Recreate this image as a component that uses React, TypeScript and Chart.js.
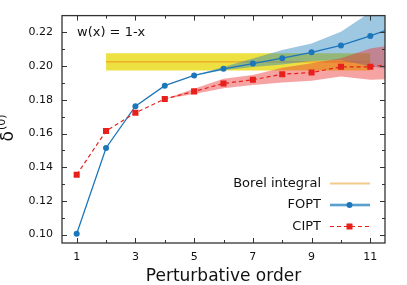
import React, { useEffect, useRef } from "react";
import { Chart, registerables } from "chart.js";

Chart.register(...registerables);

// ---- data ----
const orders = [1, 2, 3, 4, 5, 6, 7, 8, 9, 10, 11, 12];
const foptValues = [0.1005, 0.1514, 0.1762, 0.1884, 0.1945, 0.1984, 0.2015, 0.2047, 0.2082, 0.2123, 0.2179, 0.2243];
const ciptValues = [0.1355, 0.1615, 0.1723, 0.1805, 0.185, 0.1897, 0.1919, 0.1952, 0.1962, 0.1996, 0.1996, 0.2018];

const foptBandOrders = [5, 6, 7, 8, 9, 10, 11, 12];
const foptBandHi = [0.1946, 0.1995, 0.2045, 0.2096, 0.2135, 0.2204, 0.232, 0.245];
const foptBandLo = [0.1944, 0.1975, 0.1995, 0.201, 0.203, 0.2035, 0.2, 0.197];

const ciptBandOrders = [4, 5, 6, 7, 8, 9, 10, 11, 12];
const ciptBandHi = [0.1805, 0.1865, 0.1925, 0.1948, 0.199, 0.2017, 0.2047, 0.2105, 0.213];
const ciptBandLo = [0.1805, 0.1835, 0.1868, 0.1888, 0.1903, 0.1913, 0.1939, 0.1919, 0.1925];

const borelOrders = [2, 11];
const borelCenter = 0.2025;
const borelLo = 0.1974;
const borelHi = 0.2076;

const xTicks = [1, 3, 5, 7, 9, 11];
const xMinorTicks = [2, 4, 6, 8, 10];
const yTicks = [0.1, 0.12, 0.14, 0.16, 0.18, 0.2, 0.22];
const yMinorTicks = [0.11, 0.13, 0.15, 0.17, 0.19, 0.21];

const xTitle = "Perturbative order";
const yTitleMain = "δ";
const yTitleSup = "(0)";
const annotationText = "w(x) = 1-x";
const legendLabels = ["Borel integral", "FOPT", "CIPT"];

const FONT = "'DejaVu Sans', sans-serif";
const BLUE = "rgb(28,118,186)";
const RED = "rgb(232,32,28)";
const AXIS = "#333333";

const pts = (xs: number[], ys: number[]) => xs.map((x, i) => ({ x, y: ys[i] }));
const flat = (xs: number[], y: number) => xs.map((x) => ({ x, y }));

const decorPlugin = {
  id: "decor",
  afterDraw(chart: any) {
    const { ctx, chartArea } = chart;
    const xs = chart.scales.x;
    const ys = chart.scales.y;
    const { left, right, top, bottom } = chartArea;
    ctx.save();
    // ticks inward on all sides
    ctx.strokeStyle = AXIS;
    ctx.lineWidth = 1;
    const tickX = (v: number, len: number) => {
      const px = Math.round(xs.getPixelForValue(v)) + 0.5;
      ctx.beginPath();
      ctx.moveTo(px, bottom);
      ctx.lineTo(px, bottom - len);
      ctx.moveTo(px, top);
      ctx.lineTo(px, top + len);
      ctx.stroke();
    };
    const tickY = (v: number, len: number) => {
      const py = Math.round(ys.getPixelForValue(v)) + 0.5;
      ctx.beginPath();
      ctx.moveTo(left, py);
      ctx.lineTo(left + len, py);
      ctx.moveTo(right, py);
      ctx.lineTo(right - len, py);
      ctx.stroke();
    };
    xTicks.forEach((v) => tickX(v, 5));
    xMinorTicks.forEach((v) => tickX(v, 3));
    yTicks.forEach((v) => tickY(v, 5));
    yMinorTicks.forEach((v) => tickY(v, 3));
    // frame
    ctx.lineWidth = 1.3;
    ctx.strokeRect(left, top, right - left, bottom - top);

    // annotation
    ctx.fillStyle = "#111";
    ctx.font = `13px ${FONT}`;
    ctx.textAlign = "left";
    ctx.textBaseline = "middle";
    ctx.fillText(annotationText, 77, 32.5);

    // x title
    ctx.font = `17px ${FONT}`;
    ctx.textAlign = "center";
    ctx.textBaseline = "middle";
    ctx.fillText(xTitle, (left + right) / 2, 277);

    // y title (rotated)
    ctx.save();
    ctx.translate(12.5, 128);
    ctx.rotate(-Math.PI / 2);
    ctx.font = `17px ${FONT}`;
    const wMain = ctx.measureText(yTitleMain).width;
    ctx.font = `11px ${FONT}`;
    const wSup = ctx.measureText(yTitleSup).width;
    const total = wMain + wSup + 1;
    ctx.textAlign = "left";
    ctx.textBaseline = "alphabetic";
    ctx.font = `17px ${FONT}`;
    ctx.fillText(yTitleMain, -total / 2, 0);
    ctx.font = `11px ${FONT}`;
    ctx.fillText(yTitleSup, -total / 2 + wMain + 1, -8);
    ctx.restore();

    // legend
    const rows = [183.5, 205, 226.5];
    ctx.font = `13px ${FONT}`;
    ctx.textAlign = "right";
    ctx.textBaseline = "middle";
    ctx.fillStyle = "#111";
    legendLabels.forEach((t, i) => ctx.fillText(t, 321, rows[i]));
    const lx0 = 330, lx1 = 370, mx = 349.5;
    // Borel
    ctx.strokeStyle = "rgba(236,190,110,0.8)";
    ctx.lineWidth = 2;
    ctx.beginPath();
    ctx.moveTo(lx0, rows[0]);
    ctx.lineTo(lx1, rows[0]);
    ctx.stroke();
    // FOPT
    ctx.strokeStyle = "rgba(150,200,226,1)";
    ctx.lineWidth = 3;
    ctx.beginPath();
    ctx.moveTo(lx0, rows[1]);
    ctx.lineTo(lx1, rows[1]);
    ctx.stroke();
    ctx.strokeStyle = BLUE;
    ctx.lineWidth = 1.2;
    ctx.beginPath();
    ctx.moveTo(lx0, rows[1]);
    ctx.lineTo(lx1, rows[1]);
    ctx.stroke();
    ctx.fillStyle = BLUE;
    ctx.beginPath();
    ctx.arc(mx, rows[1], 3, 0, Math.PI * 2);
    ctx.fill();
    // CIPT
    ctx.strokeStyle = RED;
    ctx.lineWidth = 1.2;
    ctx.setLineDash([4, 3]);
    ctx.beginPath();
    ctx.moveTo(lx0, rows[2]);
    ctx.lineTo(lx1, rows[2]);
    ctx.stroke();
    ctx.setLineDash([]);
    ctx.fillStyle = RED;
    ctx.fillRect(mx - 3, rows[2] - 3, 6, 6);
    ctx.restore();
  },
};

export default function App() {
  const ref = useRef<HTMLCanvasElement | null>(null);
  useEffect(() => {
    if (!ref.current) return;
    const bandBase = {
      pointRadius: 0,
      borderWidth: 0,
      clip: 0,
      tension: 0,
    };
    const chart = new Chart(ref.current, {
      type: "line",
      data: {
        datasets: [
          // 0,1 Borel band
          { ...bandBase, data: flat(borelOrders, borelLo), fill: false, order: 20, borderColor: "transparent" },
          { ...bandBase, data: flat(borelOrders, borelHi), fill: "-1", order: 19, borderColor: "transparent", backgroundColor: "rgba(230,215,0,0.75)" },
          // 2 Borel center
          { data: flat(borelOrders, borelCenter), order: 18, borderColor: "rgb(240,165,40)", borderWidth: 1.3, pointRadius: 0, fill: false, clip: 0 },
          // 3,4 FOPT band
          { ...bandBase, data: pts(foptBandOrders, foptBandLo), fill: false, order: 17, borderColor: "transparent" },
          { ...bandBase, data: pts(foptBandOrders, foptBandHi), fill: "-1", order: 16, borderColor: "transparent", backgroundColor: "rgba(40,130,190,0.45)" },
          // 5,6 CIPT band
          { ...bandBase, data: pts(ciptBandOrders, ciptBandLo), fill: false, order: 15, borderColor: "transparent" },
          { ...bandBase, data: pts(ciptBandOrders, ciptBandHi), fill: "-1", order: 14, borderColor: "transparent", backgroundColor: "rgba(235,50,50,0.45)" },
          // 7 FOPT
          {
            data: pts(orders, foptValues), order: 2, borderColor: BLUE, backgroundColor: BLUE,
            borderWidth: 1.3, pointStyle: "circle", pointRadius: 3, pointBorderWidth: 0, fill: false, clip: 0,
          },
          // 8 CIPT
          {
            data: pts(orders, ciptValues), order: 1, borderColor: RED, backgroundColor: RED,
            borderWidth: 1.2, borderDash: [4, 3], pointStyle: "rect", pointRadius: 4.3, pointBorderWidth: 0, fill: false, clip: 0,
          },
        ],
      },
      options: {
        animation: false,
        responsive: false,
        devicePixelRatio: 1,
        layout: { padding: { top: 14, right: 22, left: 0, bottom: 0 } },
        plugins: { legend: { display: false }, tooltip: { enabled: false } },
        scales: {
          x: {
            type: "linear",
            min: 0.5,
            max: 11.5,
            grid: { display: false, drawTicks: false },
            border: { display: false },
            afterBuildTicks: (s: any) => { s.ticks = xTicks.map((v) => ({ value: v })); },
            afterFit: (s: any) => { s.height = 42; },
            ticks: { color: "#111", font: { family: FONT, size: 11 }, padding: 8, maxRotation: 0, callback: (v: any) => String(v) },
          },
          y: {
            type: "linear",
            min: 0.095,
            max: 0.23,
            grid: { display: false, drawTicks: false },
            border: { display: false },
            afterBuildTicks: (s: any) => { s.ticks = yTicks.map((v) => ({ value: v })); },
            afterFit: (s: any) => { s.width = 62; },
            ticks: { color: "#111", font: { family: FONT, size: 11 }, padding: 9, callback: (v: any) => Number(v).toFixed(2) },
          },
        },
      },
      plugins: [decorPlugin],
    } as any);
    return () => chart.destroy();
  }, []);
  return (
    <div style={{ position: "fixed", left: 0, top: 0, width: 407, height: 285, background: "#fff" }}>
      <canvas ref={ref} width={407} height={285} style={{ width: 407, height: 285, display: "block" }} />
    </div>
  );
}
